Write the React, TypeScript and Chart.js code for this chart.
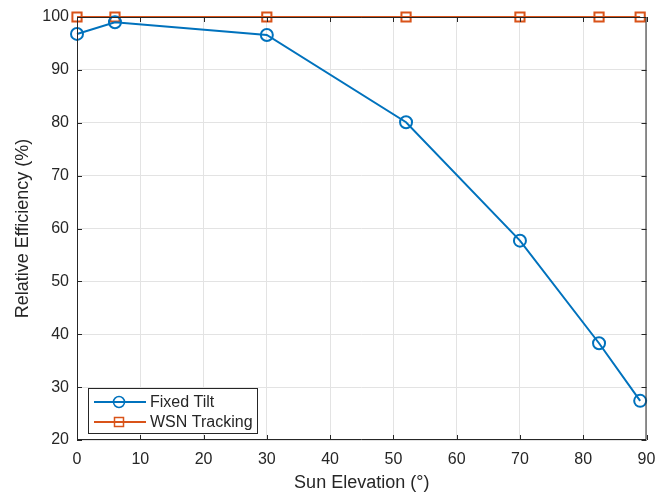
import React, { useEffect, useRef } from "react";
import { Chart, registerables } from "chart.js";

Chart.register(...registerables);

const elevations = [0, 6, 30, 52, 70, 82.5, 89];
const fixedTilt = [96.8, 99.0, 96.6, 80.1, 57.7, 38.3, 27.4];
const wsnTracking = [100, 100, 100, 100, 100, 100, 100];
const xTicks = [0, 10, 20, 30, 40, 50, 60, 70, 80, 90];
const yTicks = [20, 30, 40, 50, 60, 70, 80, 90, 100];

const BLUE = "#0072BD";
const ORANGE = "#D95319";
const AXIS = "#262626";
const FONT = "'Liberation Sans', Arial, Helvetica, sans-serif";

const boxPlugin = {
  id: "matlabBox",
  afterDatasetsDraw(chart: any) {
    const { ctx, chartArea: a, scales } = chart;
    ctx.save();
    ctx.strokeStyle = AXIS;
    ctx.lineWidth = 1;
    ctx.beginPath();
    ctx.rect(a.left + 0.5, a.top + 0.5, a.right - a.left - 1, a.bottom - a.top - 1);
    ctx.stroke();
    const tl = 5;
    ctx.beginPath();
    for (const v of xTicks) {
      const x = Math.round(scales.x.getPixelForValue(v)) + 0.5;
      ctx.moveTo(x, a.bottom);
      ctx.lineTo(x, a.bottom - tl);
      ctx.moveTo(x, a.top);
      ctx.lineTo(x, a.top + tl);
    }
    for (const v of yTicks) {
      const y = Math.round(scales.y.getPixelForValue(v)) + 0.5;
      ctx.moveTo(a.left, y);
      ctx.lineTo(a.left + tl, y);
      ctx.moveTo(a.right, y);
      ctx.lineTo(a.right - tl, y);
    }
    ctx.stroke();
    ctx.restore();
  },
  afterDraw(chart: any) {
    const { ctx, chartArea: a } = chart;
    const bx = a.left + 11;
    const by = a.bottom - 52;
    const bw = 169;
    const bh = 45;
    ctx.save();
    ctx.fillStyle = "#ffffff";
    ctx.fillRect(bx, by, bw, bh);
    ctx.strokeStyle = AXIS;
    ctx.lineWidth = 1;
    ctx.strokeRect(bx + 0.5, by + 0.5, bw, bh);
    const items = [
      { label: "Fixed Tilt", color: BLUE, shape: "circle" },
      { label: "WSN Tracking", color: ORANGE, shape: "rect" },
    ];
    items.forEach((it, i) => {
      const y = by + 14 + i * 20;
      ctx.strokeStyle = it.color;
      ctx.lineWidth = 2;
      ctx.beginPath();
      ctx.moveTo(bx + 6, y);
      ctx.lineTo(bx + 58, y);
      ctx.stroke();
      ctx.lineWidth = 1.5;
      ctx.beginPath();
      if (it.shape === "circle") {
        ctx.arc(bx + 31, y, 5.5, 0, Math.PI * 2);
      } else {
        ctx.rect(bx + 26.5, y - 4.5, 9, 9);
      }
      ctx.stroke();
      ctx.fillStyle = AXIS;
      ctx.font = `16px ${FONT}`;
      ctx.textBaseline = "middle";
      ctx.fillText(it.label, bx + 62, y + 1);
    });
    ctx.restore();
  },
};

export default function App() {
  const ref = useRef<HTMLCanvasElement | null>(null);
  useEffect(() => {
    document.body.style.margin = "0";
    const chart = new Chart(ref.current as HTMLCanvasElement, {
      type: "line",
      data: {
        datasets: [
          {
            label: "Fixed Tilt",
            data: elevations.map((x, i) => ({ x, y: fixedTilt[i] })),
            borderColor: BLUE,
            backgroundColor: "rgba(0,0,0,0)",
            borderWidth: 2,
            pointStyle: "circle",
            pointRadius: 6,
            pointBorderWidth: 2,
            pointBorderColor: BLUE,
            pointBackgroundColor: "rgba(0,0,0,0)",
            clip: false as any,
            tension: 0,
          },
          {
            label: "WSN Tracking",
            data: elevations.map((x, i) => ({ x, y: wsnTracking[i] })),
            borderColor: ORANGE,
            backgroundColor: "rgba(0,0,0,0)",
            borderWidth: 2,
            pointStyle: "rect",
            pointRadius: 6.5,
            pointBorderWidth: 2,
            pointBorderColor: ORANGE,
            pointBackgroundColor: "rgba(0,0,0,0)",
            clip: false as any,
            tension: 0,
          },
        ],
      },
      options: {
        animation: false,
        responsive: false,
        layout: { padding: { left: 0, top: 17, right: 8, bottom: 0 } },
        plugins: { legend: { display: false }, tooltip: { enabled: false } },
        scales: {
          x: {
            type: "linear",
            min: 0,
            max: 90,
            afterBuildTicks: (s: any) => {
              s.ticks = xTicks.map((v) => ({ value: v }));
            },
            afterFit: (s: any) => {
              s.height = 54;
              s.paddingLeft = 0;
              s.paddingRight = 0;
            },
            grid: { color: "#e3e3e3", drawTicks: false },
            border: { display: false },
            ticks: { color: AXIS, font: { family: FONT, size: 16 }, padding: 10, maxRotation: 0 },
            title: {
              display: true,
              text: "Sun Elevation (°)",
              color: AXIS,
              font: { family: FONT, size: 18 },
              padding: { top: 0, bottom: 0 },
            },
          },
          y: {
            type: "linear",
            min: 20,
            max: 100,
            afterBuildTicks: (s: any) => {
              s.ticks = yTicks.map((v) => ({ value: v }));
            },
            afterFit: (s: any) => {
              s.width = 77;
              s.paddingTop = 0;
              s.paddingBottom = 0;
            },
            grid: { color: "#e3e3e3", drawTicks: false },
            border: { display: false },
            ticks: { color: AXIS, font: { family: FONT, size: 16 }, padding: 8 },
            title: {
              display: true,
              text: "Relative Efficiency (%)",
              color: AXIS,
              font: { family: FONT, size: 18 },
              padding: { top: 12, bottom: 6 },
            },
          },
        },
      },
      plugins: [boxPlugin],
    } as any);
    return () => chart.destroy();
  }, []);
  return <canvas ref={ref} width={655} height={494} style={{ display: "block" }} />;
}
